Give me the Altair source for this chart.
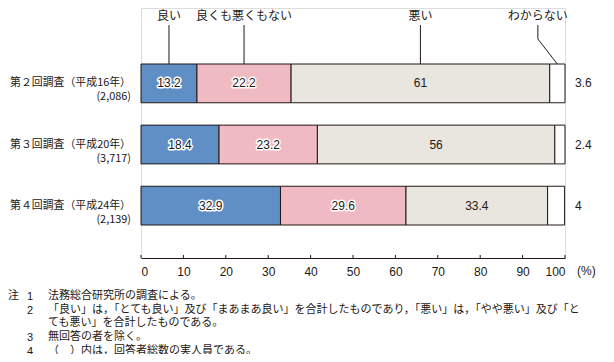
import altair as alt
import pandas as pd

surveys = ["第２回調査（平成16年）\n(2,086)",
           "第３回調査（平成20年）\n(3,717)",
           "第４回調査（平成24年）\n(2,139)"]
categories = ["良い", "良くも悪くもない", "悪い", "わからない"]
good = [13.2, 18.4, 32.9]
neutral = [22.2, 23.2, 29.6]
bad = [61, 56, 33.4]
unknown = [3.6, 2.4, 4]
colors = ["#5F8FC5", "#F0BAC2", "#E9E6DF", "#FFFFFF"]
tick_values = list(range(0, 101, 10))
note_head = "注"
note_nums = ["1", "2", "3", "4"]
note_rows = [0, 1, 3, 4]
note_lines = [
    "法務総合研究所の調査による。",
    "「良い」は，「とても良い」及び「まあまあ良い」を合計したものであり，「悪い」は，「やや悪い」及び「と",
    "ても悪い」を合計したものである。",
    "無回答の者を除く。",
    "（　）内は，回答者総数の実人員である。",
]

JP = "Noto Sans CJK JP"
LAT = "Liberation Sans"
DARK = "#231815"
NOTE_TOP = 282
NOTE_LH = 13.7

rows = []
series = [good, neutral, bad, unknown]
for i, s in enumerate(surveys):
    start = 0.0
    for j, c in enumerate(categories):
        v = series[j][i]
        rows.append({"survey": s, "cat": c, "value": v, "start": start,
                     "end": start + v, "mid": start + v / 2,
                     "label": f"{v:g}", "order": j})
        start += v
df = pd.DataFrame(rows)
inside = df[df["cat"] != "わからない"]
halo = inside[inside["cat"] != "悪い"]
outside = df[df["cat"] == "わからない"]

first = df[df["survey"] == surveys[0]].reset_index(drop=True)
leader = first[first["cat"] != "わからない"]
unk_mid = float(first.loc[3, "mid"])
unk_label_x = 93.6

xs = alt.Scale(domain=[0, 100], nice=False, zero=False)
ys = alt.Scale(domain=surveys, range=[56, 217], paddingInner=0.366, paddingOuter=0)

base = alt.Chart(df)

bars = base.mark_bar(stroke=DARK, strokeWidth=1).encode(
    x=alt.X("start:Q", scale=xs,
            axis=alt.Axis(values=tick_values, grid=False, ticks=False, domain=True,
                          domainColor=DARK, domainWidth=1, labelFont=LAT,
                          labelFontSize=12, labelColor=DARK, labelPadding=8,
                          labelAngle=0, title=None)),
    x2="end:Q",
    y=alt.Y("survey:N", scale=ys, axis=None),
    color=alt.Color("cat:N", scale=alt.Scale(domain=categories, range=colors), legend=None),
)

halo_txt = alt.Chart(halo).mark_text(font=LAT, fontSize=12, color="white", stroke="white",
                                      strokeWidth=3, strokeJoin="round").encode(
    x="mid:Q", y=alt.Y("survey:N", scale=ys), text="label:N")
dark_txt = alt.Chart(inside).mark_text(font=LAT, fontSize=12, color=DARK).encode(
    x="mid:Q", y=alt.Y("survey:N", scale=ys), text="label:N")
out_txt = alt.Chart(outside).mark_text(font=LAT, fontSize=12, color=DARK, align="left",
                                        dx=10).encode(
    x=alt.datum(100), y=alt.Y("survey:N", scale=ys), text="label:N")

ylab = alt.Chart(pd.DataFrame({"survey": surveys})).mark_text(
    font=JP, fontSize=10.9, color=DARK, align="right", baseline="middle",
    lineBreak="\n", lineHeight=14).encode(
    x=alt.value(-10), y=alt.Y("survey:N", scale=ys), text="survey:N")

lead_rule = alt.Chart(leader).mark_rule(color=DARK, strokeWidth=1).encode(
    x="mid:Q", y=alt.value(17), y2=alt.value(56))
lead_txt = alt.Chart(leader).mark_text(font=JP, fontSize=12, color=DARK,
                                        baseline="middle").encode(
    x="mid:Q", y=alt.value(8), text="cat:N")

unk_df = pd.DataFrame({"cat": ["わからない"], "lx": [unk_label_x], "mx": [unk_mid]})
unk_v = alt.Chart(unk_df).mark_rule(color=DARK, strokeWidth=1).encode(
    x="lx:Q", y=alt.value(17), y2=alt.value(31))
unk_d = alt.Chart(unk_df).mark_rule(color=DARK, strokeWidth=1).encode(
    x="lx:Q", x2="mx:Q", y=alt.value(31), y2=alt.value(56))
unk_t = alt.Chart(unk_df).mark_text(font=JP, fontSize=12, color=DARK,
                                     baseline="middle").encode(
    x="lx:Q", y=alt.value(8), text="cat:N")

tick_rules = alt.Chart(pd.DataFrame({"t": tick_values})).mark_rule(
    color=DARK, strokeWidth=1).encode(x="t:Q", y=alt.value(247), y2=alt.value(250))

pct = alt.Chart(pd.DataFrame({"t": ["(%)"]})).mark_text(
    font=LAT, fontSize=12, color=DARK, align="left", baseline="top", dx=12).encode(
    x=alt.datum(100), y=alt.value(258), text="t:N")

notes_df = pd.DataFrame({"head": [note_head], "lines": ["\n".join(note_lines)]})
n_head = alt.Chart(notes_df).mark_text(font=JP, fontSize=11, color=DARK, align="left",
                                        baseline="top").encode(
    x=alt.value(-133), y=alt.value(NOTE_TOP), text="head:N")
num_layers = []
for n, r in zip(note_nums, note_rows):
    num_layers.append(
        alt.Chart(pd.DataFrame({"n": [n]})).mark_text(
            font=LAT, fontSize=11, color=DARK, align="center", baseline="top").encode(
            x=alt.value(-111), y=alt.value(NOTE_TOP + 1 + r * NOTE_LH), text="n:N"))
n_lines = alt.Chart(notes_df).mark_text(font=JP, fontSize=11, color=DARK, align="left",
                                         baseline="top", lineBreak="\n",
                                         lineHeight=NOTE_LH).encode(
    x=alt.value(-93), y=alt.value(NOTE_TOP), text="lines:N")

chart = alt.layer(bars, halo_txt, dark_txt, out_txt, ylab, lead_rule, lead_txt,
                  unk_v, unk_d, unk_t, tick_rules, pct, n_head, *num_layers,
                  n_lines).properties(
    width=424, height=250,
    autosize=alt.AutoSizeParams(type="none"),
    padding={"left": 133, "top": 0, "right": 41, "bottom": 96},
).configure_view(stroke=None).configure(background="white")

chart.save("out.html", embed_options={"renderer": "svg", "actions": False})
